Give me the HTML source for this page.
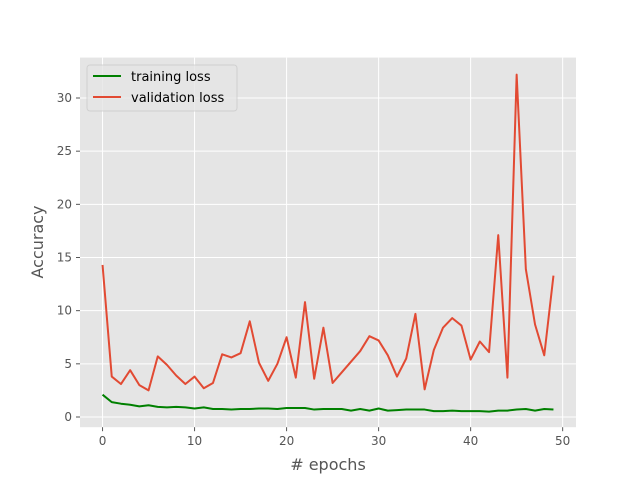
<!DOCTYPE html>
<html><head><meta charset="utf-8"><style>
body{margin:0;background:#fff;}
svg{display:block;font-family:"DejaVu Sans","Liberation Sans",sans-serif;}
</style></head><body>
<svg id="chart" width="640" height="480" viewBox="0 0 640 480">
<rect x="0" y="0" width="640" height="480" fill="#fff"/>
<rect x="80" y="57.6" width="496" height="369.6" fill="#e5e5e5"/>
<g id="grid"></g><g id="ticks"></g><g id="series"></g>
<text x="328" y="470" text-anchor="middle" font-size="16" fill="#555">#  epochs</text>
<text transform="translate(43,242) rotate(-90)" text-anchor="middle" font-size="16" fill="#555">Accuracy</text>
<g>
<rect x="87" y="65" width="150" height="46" rx="3" fill="#e5e5e5" stroke="#ccc" stroke-width="1" opacity="0.8"/>
<line x1="93" y1="76" x2="121" y2="76" stroke="#008000" stroke-width="2"/>
<text x="131" y="81" font-size="13" fill="#000">training loss</text>
<line x1="93" y1="97" x2="121" y2="97" stroke="#e24a33" stroke-width="2"/>
<text x="131" y="102" font-size="13" fill="#000">validation loss</text>
</g>
</svg>
<script>
const trainLoss=[2.1,1.4,1.25,1.15,1.0,1.1,0.95,0.9,0.95,0.9,0.8,0.9,0.75,0.75,0.7,0.75,0.75,0.8,0.8,0.75,0.85,0.85,0.85,0.7,0.75,0.75,0.75,0.6,0.75,0.6,0.8,0.6,0.65,0.7,0.7,0.7,0.55,0.55,0.6,0.55,0.55,0.55,0.5,0.6,0.6,0.7,0.75,0.6,0.75,0.7];
const valLoss=[14.3,3.8,3.1,4.4,3.0,2.5,5.7,4.9,3.9,3.1,3.8,2.7,3.2,5.9,5.6,6.0,9.0,5.1,3.4,5.0,7.5,3.7,10.8,3.6,8.4,3.2,4.2,5.2,6.2,7.6,7.2,5.8,3.8,5.5,9.7,2.6,6.3,8.4,9.3,8.6,5.4,7.1,6.1,17.1,3.7,32.2,13.9,8.7,5.8,13.3];
const xTicks=[0,10,20,30,40,50];
const yTicks=[0,5,10,15,20,25,30];
const NS='http://www.w3.org/2000/svg';
const L=80,R=576,T=57.6,B=427.2;
const xMin=-2.45,xMax=51.45,yMin=-0.96,yMax=33.8;
const sx=v=>L+(v-xMin)/(xMax-xMin)*(R-L);
const sy=v=>B-(v-yMin)/(yMax-yMin)*(B-T);
function mk(tag,attrs,parent){const e=document.createElementNS(NS,tag);for(const k in attrs)e.setAttribute(k,attrs[k]);document.getElementById(parent).appendChild(e);return e;}
xTicks.forEach(t=>{
 const g=mk('line',{x1:sx(t),x2:sx(t),y1:T,y2:B,stroke:'#fff','stroke-width':1},'grid');
 
 
 const tk=mk('line',{x1:sx(t),x2:sx(t),y1:B,y2:B+4,stroke:'#555','stroke-width':1},'ticks');
 
 
 const tx=mk('text',{x:sx(t),y:B+18,'text-anchor':'middle','font-size':12,fill:'#555'},'ticks');
 tx.textContent=t;
 
 
});
yTicks.forEach(t=>{
 const g=mk('line',{x1:L,x2:R,y1:sy(t),y2:sy(t),stroke:'#fff','stroke-width':1},'grid');
 
 
 const tk=mk('line',{x1:L-4,x2:L,y1:sy(t),y2:sy(t),stroke:'#555','stroke-width':1},'ticks');
 
 
 const tx=mk('text',{x:L-8,y:sy(t)+4,'text-anchor':'end','font-size':12,fill:'#555'},'ticks');
 tx.textContent=t;
 
 
});
function line(data,color,name){
 const p=mk('polyline',{points:data.map((v,i)=>sx(i)+','+sy(v)).join(' '),fill:'none',stroke:color,'stroke-width':2,'stroke-linejoin':'round'},'series');
 
 
}
line(valLoss,'#e24a33','validation-loss-line');
line(trainLoss,'#008000','training-loss-line');
</script>
</body></html>
